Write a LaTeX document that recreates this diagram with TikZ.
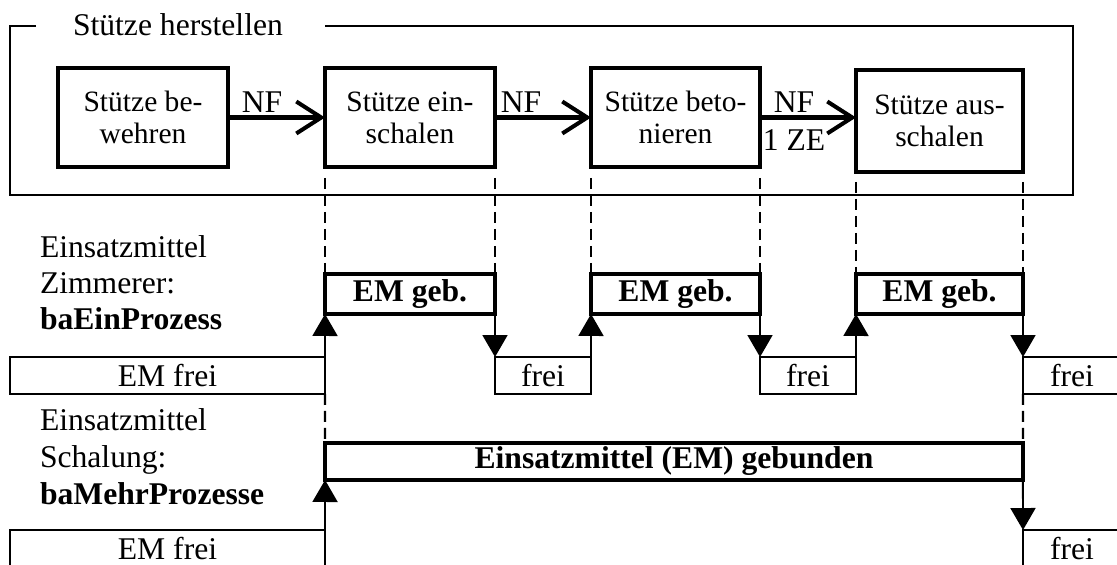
\documentclass[tikz,border=0pt]{standalone}
\usepackage{fontspec}
\setmainfont{Liberation Serif}
\usetikzlibrary{arrows.meta}
\begin{document}
\begin{tikzpicture}[x=0.02cm,y=-0.02cm,
  every node/.style={outer sep=0pt, inner sep=0pt, font=\fontsize{18}{20}\selectfont},
  procbox/.style={draw, line width=2.3pt, minimum height=1.98cm, align=center,
    font=\fontsize{16.8}{18.2}\selectfont},
  gebbox/.style={draw, line width=2pt, minimum height=0.8cm,
    font=\bfseries\fontsize{18}{20}\selectfont},
  freebox/.style={draw, line width=1.1pt, minimum height=0.74cm},
  procarrow/.style={line width=2.3pt, -{Straight Barb[length=0.5cm, width=0.64cm]}},
  statearrow/.style={line width=1.1pt, -{Triangle[length=0.44cm, width=0.5cm]}},
  guide/.style={line width=1.3pt, dash pattern=on 0.22cm off 0.12cm},
  frameline/.style={line width=1.1pt},
]
\useasboundingbox (0,0) rectangle (1117,565);
\clip (0,0) rectangle (1117,565);

% process group
\node[anchor=base west] (title) at (73,35) {Stütze herstellen};
\draw[frameline] (36,26) -- (10,26) -- (10,195) -- (1073,195) -- (1073,26) -- (325,26);

\node[procbox, minimum width=3.4cm] (box1) at (143,117.5) {Stütze be-\\wehren};
\node[procbox, minimum width=3.4cm] (box2) at (410,117.5) {Stütze ein-\\schalen};
\node[procbox, minimum width=3.38cm] (box3) at (675.5,117.5) {Stütze beto-\\nieren};
\node[procbox, minimum width=3.34cm, minimum height=2.04cm] (box4) at (939.5,121) {Stütze aus-\\schalen};

\draw[procarrow] (box1.east) -- (box2.west);
\draw[procarrow] (box2.east) -- (box3.west);
\draw[procarrow] (box3.east) -- (box3.east -| box4.west);

\node[anchor=base] (nf1) at (262,112) {NF};
\node[anchor=base] (nf2) at (521,112) {NF};
\node[anchor=base] (nf3) at (794,112) {NF};
\node[anchor=base] (ze) at (794,150) {1 ZE};

% resource: carpenter
\node[anchor=base west] (z1) at (40,257) {Einsatzmittel};
\node[anchor=base west] (z2) at (40,293) {Zimmerer:};
\node[anchor=base west] (z3) at (40,329) {\bfseries baEinProzess};

\node[gebbox, minimum width=3.4cm] (geb1) at (410,294) {EM geb.};
\node[gebbox, minimum width=3.38cm] (geb2) at (675.5,294) {EM geb.};
\node[gebbox, minimum width=3.34cm] (geb3) at (939.5,294) {EM geb.};

\node[freebox, minimum width=6.3cm] (free0) at (167.5,375.5) {EM frei};
\node[freebox, minimum width=1.92cm] (free1) at (543,375.5) {frei};
\node[freebox, minimum width=1.92cm] (free2) at (808,375.5) {frei};
\node[freebox, minimum width=1.96cm] (free3) at (1072,375.5) {frei};

\draw[guide] ([yshift=-0.22cm]box2.south west) -- (geb1.north west);
\draw[guide] ([yshift=-0.22cm]box2.south east) -- (geb1.north east);
\draw[guide] ([yshift=-0.22cm]box3.south west) -- (geb2.north west);
\draw[guide] ([yshift=-0.22cm]box3.south east) -- (geb2.north east);
\draw[guide] ([yshift=-0.2cm]box4.south west) -- (geb3.north west);
\draw[guide] ([yshift=-0.2cm]box4.south east) -- (geb3.north east);

\draw[statearrow] (free0.north east) -- (geb1.south west);
\draw[statearrow] (geb1.south east) -- (free1.north west);
\draw[statearrow] (free1.north east) -- (geb2.south west);
\draw[statearrow] (geb2.south east) -- (free2.north west);
\draw[statearrow] (free2.north east) -- (geb3.south west);
\draw[statearrow] (geb3.south east) -- (free3.north west);

% resource: formwork
\node[anchor=base west] (s1) at (40,430) {Einsatzmittel};
\node[anchor=base west] (s2) at (40,467) {Schalung:};
\node[anchor=base west] (s3) at (40,504) {\bfseries baMehrProzesse};

\node[gebbox, minimum width=13.96cm, minimum height=0.74cm] (bound) at (674,461.5) {Einsatzmittel (EM) gebunden};
\node[freebox, minimum width=6.3cm] (free4) at (167.5,548.5) {EM frei};
\node[freebox, minimum width=1.96cm] (free5) at (1072,548.5) {frei};

\draw[guide] (free0.south east) -- (bound.north west);
\draw[guide] (free3.south west) -- (bound.north east);

\draw[statearrow] (free4.north east) -- (bound.south west);
\draw[statearrow] (bound.south east) -- (free5.north west);
\end{tikzpicture}
\end{document}
